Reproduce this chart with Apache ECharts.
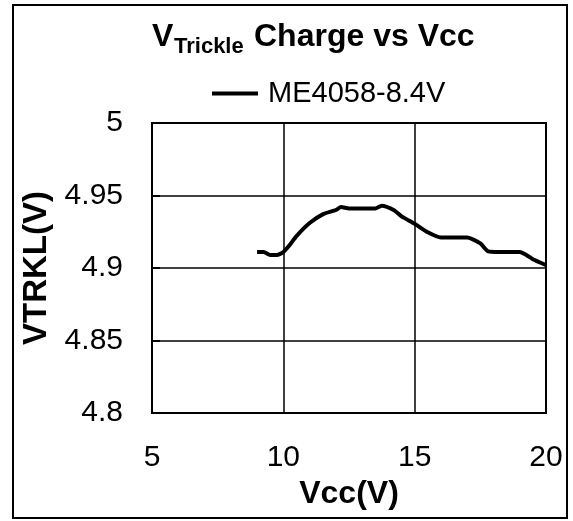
<!DOCTYPE html>
<html>
<head>
<meta charset="utf-8">
<script src="https://cdn.jsdelivr.net/npm/echarts@6/dist/echarts.min.js"></script>
<style>
html,body{margin:0;padding:0;background:#fff;}
#chart{width:573px;height:521px;}
</style>
</head>
<body>
<div id="chart"></div>
<script>
var seriesName = 'ME4058-8.4V';
var vccValues = [9, 9.25, 9.5, 9.75, 10, 10.25, 10.5, 11, 11.5, 12, 12.2, 12.5, 13, 13.5, 13.75, 14.2, 14.5, 15, 15.5, 16, 16.5, 17, 17.5, 17.8, 18.2, 18.5, 19, 19.25, 19.5, 20];
var vtrklValues = [4.911, 4.911, 4.909, 4.909, 4.911, 4.916, 4.922, 4.931, 4.937, 4.940, 4.942, 4.941, 4.941, 4.941, 4.943, 4.940, 4.9356, 4.9305, 4.9246, 4.921, 4.921, 4.921, 4.917, 4.9114, 4.911, 4.911, 4.911, 4.909, 4.906, 4.902];
var xTicks = [5, 10, 15, 20];
var yTicks = [4.8, 4.85, 4.9, 4.95, 5];

var FONT = '"Liberation Sans", Arial, sans-serif';
var chart = echarts.init(document.getElementById('chart'), null, {renderer: 'canvas'});
var pts = vccValues.map(function (x, i) { return [x, vtrklValues[i]]; });

function graphics(gr) {
  var g = [
    {type: 'rect', shape: {x: 13, y: 5, width: 554, height: 513}, style: {fill: 'none', stroke: '#000', lineWidth: 2}, silent: true},
    {type: 'text', left: 152, top: 21, style: {text: 'V', font: 'bold 32px ' + FONT, fill: '#000'}},
    {type: 'text', left: 174, top: 36, style: {text: 'Trickle', font: 'bold 22px ' + FONT, fill: '#000'}},
    {type: 'text', left: 254, top: 21, style: {text: 'Charge vs Vcc', font: 'bold 32px ' + FONT, fill: '#000'}}
  ];
  if (gr) {
    g.push({type: 'rect', shape: {x: gr.x, y: gr.y, width: gr.width, height: gr.height}, style: {fill: 'none', stroke: '#000', lineWidth: 2}, silent: true, z: 10});
  }
  return g;
}

chart.setOption({
  animation: false,
  backgroundColor: '#fff',
  textStyle: {fontFamily: FONT, color: '#000'},
  grid: {left: 152, right: 27, top: 123, bottom: 108, containLabel: false},
  legend: {
    show: true,
    left: 212, top: 79, padding: 0,
    itemWidth: 46, itemHeight: 4,
    icon: 'rect',
    data: [seriesName],
    textStyle: {fontFamily: FONT, fontSize: 29, color: '#000', padding: [0, 0, 0, 5]}
  },
  graphic: graphics(null),
  xAxis: {
    type: 'value', min: xTicks[0], max: xTicks[xTicks.length - 1], interval: 5,
    name: 'Vcc(V)', nameLocation: 'middle', nameGap: 64,
    nameTextStyle: {fontFamily: FONT, fontSize: 32, fontWeight: 'bold', color: '#000'},
    axisLine: {show: true, lineStyle: {color: '#000', width: 2}},
    axisTick: {show: false},
    axisLabel: {fontFamily: FONT, fontSize: 30, color: '#000', margin: 30},
    splitLine: {show: true, lineStyle: {color: '#000', width: 1.5}}
  },
  yAxis: {
    type: 'value', min: yTicks[0], max: yTicks[yTicks.length - 1], interval: 0.05,
    name: 'VTRKL(V)', nameLocation: 'middle', nameGap: 97, nameRotate: 90,
    nameTextStyle: {fontFamily: FONT, fontSize: 33, fontWeight: 'bold', color: '#000'},
    axisLine: {show: true, lineStyle: {color: '#000', width: 2}},
    axisTick: {show: true, inside: true, length: 8, lineStyle: {color: '#000', width: 2}},
    axisLabel: {fontFamily: FONT, fontSize: 30, color: '#000', margin: 29,
      formatter: function (v) { return String(+v.toFixed(2)); }},
    splitLine: {show: true, lineStyle: {color: '#000', width: 1.5}}
  },
  series: [{
    name: seriesName,
    type: 'line',
    data: pts,
    smooth: 0.2,
    showSymbol: false,
    symbol: 'none',
    color: '#000',
    lineStyle: {color: '#000', width: 4}
  }]
});
var gr = chart.getModel().getComponent('grid').coordinateSystem.getRect();
chart.setOption({graphic: graphics(gr)}, {replaceMerge: ['graphic']});
</script>
</body>
</html>
